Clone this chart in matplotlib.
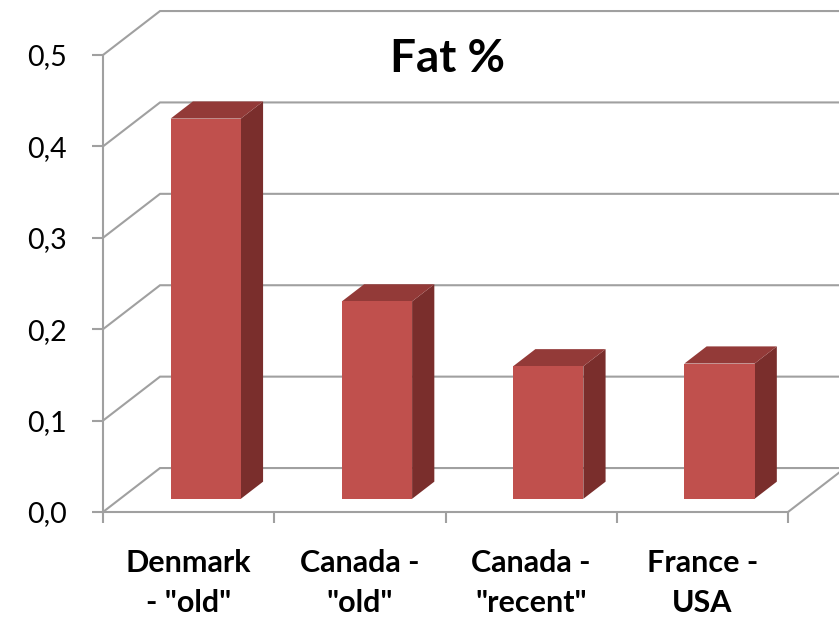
import numpy as np
import matplotlib
matplotlib.use("Agg")
import matplotlib.pyplot as plt
from matplotlib.patches import Polygon, Rectangle

# fat content per source
categories = ['Denmark\n- "old"', 'Canada -\n"old"', 'Canada -\n"recent"', 'France -\nUSA']
fat = [0.416, 0.216, 0.145, 0.148]
yticks = [0.0, 0.1, 0.2, 0.3, 0.4, 0.5]
ytick_labels = ["0,0", "0,1", "0,2", "0,3", "0,4", "0,5"]

plt.rcParams["font.family"] = ["Lato", "DejaVu Sans"]

GRID = "#a0a0a0"
FRONT, TOP, SIDE = "#c0504d", "#933a38", "#7a2e2c"

fig = plt.figure(figsize=(8.39, 6.18), dpi=100)
ax = fig.add_axes([103 / 839, 106 / 618, 685 / 839, 457 / 618])
ax.set_xlim(-0.5, 3.5)
ax.set_ylim(0, 0.5)

# oblique depth of the floor, in data units (x: categories, y: value)
DX, DY = 0.333, 0.0481
d1, d2, w = 0.30, 0.69, 0.41   # bar depth span (fraction of floor) and width

# back wall / side wall gridlines
xr = 3.5 + DX
for v in yticks:
    ax.plot([-0.5, -0.5 + DX, xr], [v, v + DY, v + DY], color=GRID, lw=1.5,
            clip_on=False, zorder=1, solid_joinstyle="miter")
# right edge of the floor
ax.plot([3.5, xr], [0, DY], color=GRID, lw=1.5, clip_on=False, zorder=1)

# 3D columns
for i, v in enumerate(fat):
    x0 = i - w / 2 + d1 * DX
    y0 = d1 * DY
    ddx, ddy = (d2 - d1) * DX, (d2 - d1) * DY
    ax.add_patch(Polygon([(x0 + w, y0), (x0 + w, y0 + v), (x0 + w + ddx, y0 + v + ddy),
                          (x0 + w + ddx, y0 + ddy)], closed=True, facecolor=SIDE,
                         edgecolor="none", zorder=3, clip_on=False))
    ax.add_patch(Polygon([(x0, y0 + v), (x0 + w, y0 + v), (x0 + w + ddx, y0 + v + ddy),
                          (x0 + ddx, y0 + v + ddy)], closed=True, facecolor=TOP,
                         edgecolor="none", zorder=3, clip_on=False))
    ax.add_patch(Rectangle((x0, y0), w, v, facecolor=FRONT, edgecolor="none",
                           zorder=4, clip_on=False))

# axes
for s in ("top", "right"):
    ax.spines[s].set_visible(False)
for s in ("left", "bottom"):
    ax.spines[s].set_color(GRID)
    ax.spines[s].set_linewidth(1.5)
    ax.spines[s].set_zorder(2)

ax.set_yticks(yticks, ytick_labels)
ax.tick_params(axis="y", length=8, width=1.5, color=GRID, pad=18, labelsize=20.5)

ax.set_xticks(np.arange(-0.5, 4, 1.0), [""] * 5)
ax.set_xticks(range(len(categories)), categories, minor=True)
ax.tick_params(axis="x", which="major", length=8, width=1.5, color=GRID)
ax.tick_params(axis="x", which="minor", length=0, pad=27, labelsize=22)
for lab in ax.get_xticklabels(minor=True):
    lab.set_fontweight("bold")
    lab.set_linespacing(1.52)
ax.patch.set_visible(False)

fig.text(447 / 839, (618 - 72) / 618, "Fat %", ha="center", va="baseline",
         fontsize=33, fontweight="bold")

fig.savefig("out.png", dpi=100)
